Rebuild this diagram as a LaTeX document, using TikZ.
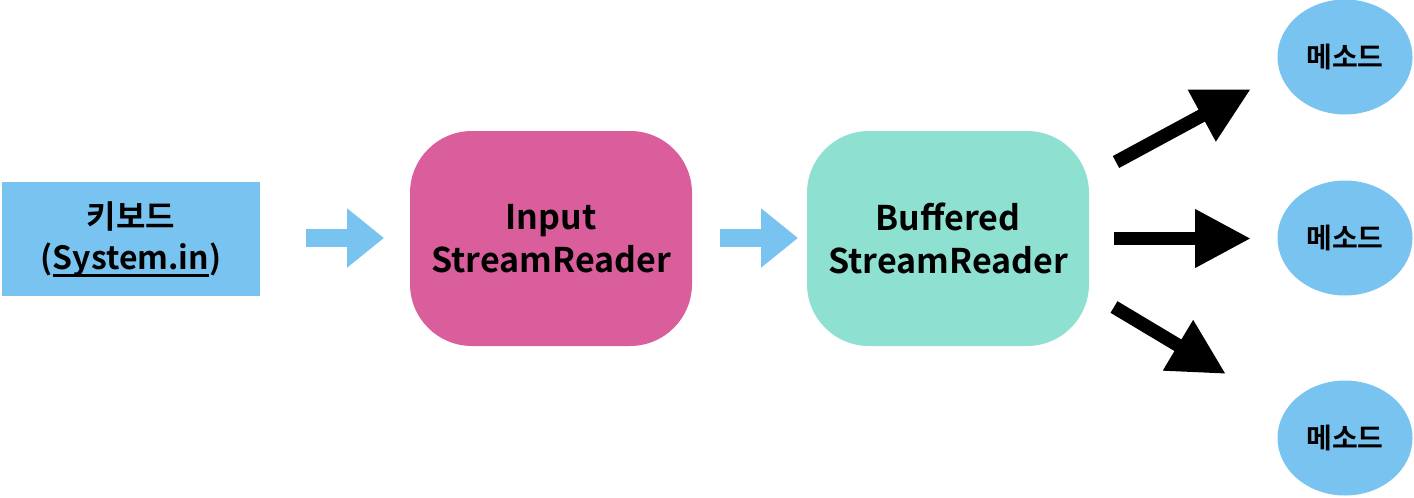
\documentclass[tikz,border=0pt]{standalone}
\usepackage{fontspec}
\setmainfont{Noto Sans CJK KR}[BoldFont={Noto Sans CJK KR Bold}]
\usetikzlibrary{arrows.meta,shapes.geometric}
\definecolor{kblue}{HTML}{79C3F1}
\definecolor{kpink}{HTML}{DB5E9C}
\definecolor{kteal}{HTML}{8EE1D1}
\newcommand\thickunder[1]{\vtop{\hbox{#1}\kern-2pt\hrule height 2.6pt}}
\tikzset{
  x=1pt,y=-1pt,
  every node/.style={font=\bfseries, align=center, inner sep=0pt},
  bigbox/.style={rounded corners=62pt, minimum width=282pt, minimum height=215pt, font=\bfseries\fontsize{34}{43}\selectfont},
  methodnode/.style={ellipse, fill=kblue, minimum width=135pt, minimum height=115pt, font=\bfseries\fontsize{28}{30}\selectfont},
  bluearrow/.style={draw=kblue, line width=18pt, -{Triangle[length=37pt,width=57pt]}},
  blackarrow/.style={draw=black, line width=13.5pt, -{Triangle[length=56pt,width=55pt]}},
}
\begin{document}
\begin{tikzpicture}
\useasboundingbox (0,0) rectangle (1414,498);
\node[fill=kblue, minimum width=258pt, minimum height=114pt, font=\bfseries\fontsize{32}{41}\selectfont] (kbd) at (131,239) {키보드\\(\thickunder{System.in})};
\node[bigbox, fill=kpink] (isr) at (551,238.5) {Input\\StreamReader};
\node[bigbox, fill=kteal] (bsr) at (948,238.5) {Buffered\\StreamReader};
\node[methodnode] (m1) at (1345,57) {메소드};
\node[methodnode] (m2) at (1345,238) {메소드};
\node[methodnode] (m3) at (1345,438) {메소드};
\coordinate (a1s) at (306,238); \coordinate (a1e) at (384,238);
\coordinate (a2s) at (720,238); \coordinate (a2e) at (798,238);
\draw[bluearrow] (a1s) -- (a1e);
\draw[bluearrow] (a2s) -- (a2e);
\coordinate (b1s) at (1116,162); \coordinate (b1e) at (1251,89);
\coordinate (b2s) at (1114,238.5); \coordinate (b2e) at (1251,238.5);
\coordinate (b3s) at (1114,307); \coordinate (b3e) at (1226,374);
\draw[blackarrow] (b1s) -- (b1e);
\draw[blackarrow] (b2s) -- (b2e);
\draw[blackarrow] (b3s) -- (b3e);
\end{tikzpicture}
\end{document}
